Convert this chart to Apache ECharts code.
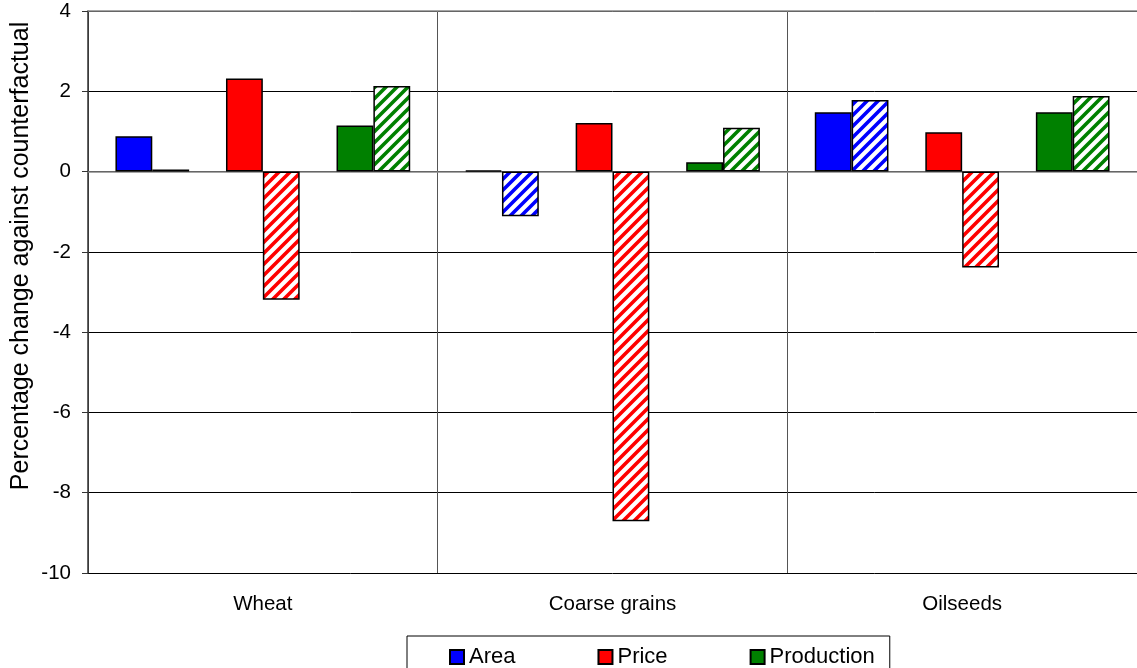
<!DOCTYPE html>
<html>
<head>
<meta charset="utf-8">
<script src="https://cdn.jsdelivr.net/npm/echarts@6/dist/echarts.min.js"></script>
<style>
  html, body { margin: 0; padding: 0; background: #fff; }
  #chart { width: 1137px; height: 668px; }
</style>
</head>
<body>
<div id="chart"></div>
<script>
const categories = ['Wheat', 'Coarse grains', 'Oilseeds'];
const areaSolid = [0.88, 0.03, 1.48];
const areaHatched = [0.05, -1.11, 1.78];
const priceSolid = [2.32, 1.21, 0.98];
const priceHatched = [-3.19, -8.71, -2.39];
const prodSolid = [1.15, 0.23, 1.48];
const prodHatched = [2.13, 1.09, 1.88];
const yTicks = { min: -10, max: 4, interval: 2 };

const FONT = '"Liberation Sans", Arial, sans-serif';

// diagonal stripe fill, white ground
function stripes(color) {
  const s = 11;
  const c = document.createElement('canvas');
  c.width = c.height = s;
  const g = c.getContext('2d');
  g.fillStyle = '#fff';
  g.fillRect(0, 0, s, s);
  g.strokeStyle = color;
  g.lineWidth = 3.6;
  g.beginPath();
  g.moveTo(-3, 3); g.lineTo(3, -3);
  g.moveTo(0, s); g.lineTo(s, 0);
  g.moveTo(s - 3, s + 3); g.lineTo(s + 3, s - 3);
  g.stroke();
  return { image: c, repeat: 'repeat' };
}

function bar(name, data, color) {
  return {
    name: name,
    type: 'bar',
    data: data,
    barGap: '0%',
    barCategoryGap: '15.7%',
    itemStyle: { color: color, borderColor: '#000', borderWidth: 1.5 }
  };
}

const chart = echarts.init(document.getElementById('chart'));
const option = {
  animation: false,
  grid: { left: 88, right: 0, top: 11, bottom: 95 },
  legend: {
    data: ['Area', 'Price', 'Production'],
    icon: 'rect',
    left: 407,
    top: 636,
    padding: [10, 15, 20, 42],
    itemGap: 82,
    itemWidth: 14,
    itemHeight: 14,
    borderColor: '#000',
    borderWidth: 1,
    textStyle: { fontFamily: FONT, fontSize: 22, color: '#000' }
  },
  graphic: [{
    type: 'text',
    x: 21,
    y: 256,
    rotation: Math.PI / 2,
    style: {
      text: 'Percentage change against counterfactual',
      font: '25px ' + FONT,
      fill: '#000',
      align: 'center',
      verticalAlign: 'middle',
      textAlign: 'center',
      textVerticalAlign: 'middle'
    }
  }],
  xAxis: [
    {
      type: 'category',
      data: categories,
      axisLine: { lineStyle: { color: '#888', width: 1.5 } },
      axisTick: { show: false },
      axisLabel: { margin: 21, color: '#000', fontFamily: FONT, fontSize: 20.5 },
      splitLine: { show: true, lineStyle: { color: '#555', width: 1 } }
    },
    {
      type: 'category',
      data: categories,
      position: 'top',
      axisLine: { lineStyle: { color: '#888', width: 1.5 } },
      axisTick: { show: false },
      axisLabel: { show: false },
      splitLine: { show: false }
    }
  ],
  yAxis: {
    type: 'value',
    min: yTicks.min,
    max: yTicks.max,
    interval: yTicks.interval,
    axisLine: { show: true, lineStyle: { color: '#333', width: 1.5 } },
    axisTick: { show: true, length: 6, lineStyle: { color: '#333' } },
    axisLabel: { margin: 17, color: '#000', fontFamily: FONT, fontSize: 20.5 },
    splitLine: { lineStyle: { color: '#000', width: 1 } }
  },
  series: [
    bar('Area', areaSolid, '#0000ff'),
    bar('Area hatched', areaHatched, stripes('#0000ff')),
    bar('gap1', [null, null, null], '#fff'),
    bar('Price', priceSolid, '#ff0000'),
    bar('Price hatched', priceHatched, stripes('#ff0000')),
    bar('gap2', [null, null, null], '#fff'),
    bar('Production', prodSolid, '#008000'),
    bar('Production hatched', prodHatched, stripes('#008000'))
  ]
};
chart.setOption(option);
</script>
</body>
</html>
